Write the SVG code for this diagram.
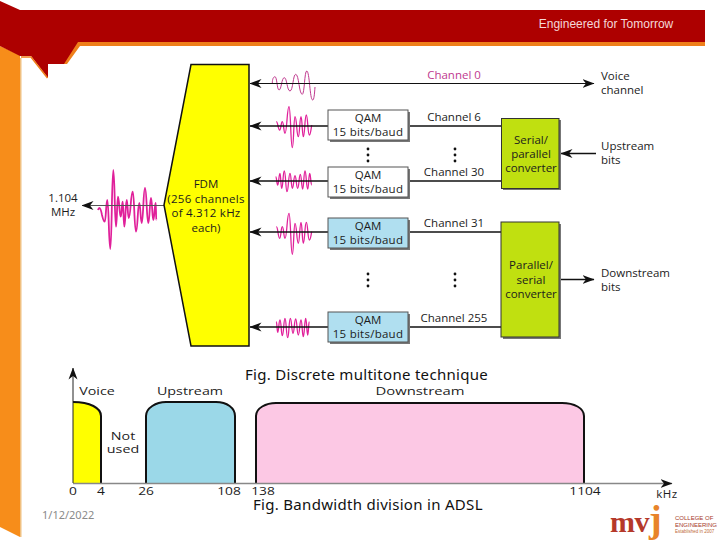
<svg xmlns="http://www.w3.org/2000/svg" width="720" height="540" viewBox="0 0 720 540">
<defs>
<style>
text{font-family:"Open Sans","Noto Sans","Liberation Sans",sans-serif;font-size:11.5px;fill:#1c1c1c}
.m{text-anchor:middle}
.pink{fill:#c0398f}
.q{letter-spacing:.25px}
.ax{font-size:11px}
.cap{font-family:"Noto Sans","Open Sans",sans-serif;font-size:15px;fill:#111;letter-spacing:.3px}
.w{fill:none;stroke:#e0209a;stroke-width:1.3}
.l{stroke:#111;stroke-width:1.6;fill:none}
.qw{fill:#fff;stroke:#555;stroke-width:1}
.qb{fill:#b0dff0;stroke:#555;stroke-width:1}
.sh{fill:#777}
.gb{fill:#c0e010;stroke:#333;stroke-width:1}
.band{stroke:#111;stroke-width:2;fill:none}
</style>
<marker id="ah" viewBox="0 0 12 10" refX="11.5" refY="5" markerWidth="12" markerHeight="10" orient="auto-start-reverse" markerUnits="userSpaceOnUse"><path d="M0 0.500L12 5L0 9.500L3.500 5Z" fill="#111"/></marker>
</defs>
<rect width="720" height="540" fill="#fff"/>
<g id="frame">
<path d="M0 46L20 55V537L0 527Z" fill="#f78d1a"/>
<rect x="20" y="58" width="1.500" height="479" fill="#f0c080"/>
<path d="M20 10H705V46H78L65 64H48V78L31 56H20L0 46V1L20 10Z" fill="#ad0000"/>
<path d="M78 42H705V46H80L67 64H64Z" fill="#ef7f1a"/>
<path d="M21 57H31L47.500 78" fill="none" stroke="#ef7f1a" stroke-width="1.500"/>
<text x="606" y="28" class="m" style="font-family:'Liberation Sans',sans-serif;font-size:12px;fill:#f4d8d8">Engineered for Tomorrow</text>
</g>
<g id="waves">
<path class="w" style="stroke:#c0398f;stroke-width:1" d="M272.300 83.300C272.300 79 273.500 76.700 275 76.700C277 76.700 277 90 279 90C281.500 90 281.500 77.700 284.300 77.700C287 77.700 287 91 290 91C293 91 293 74.300 295.700 74.300C299 74.300 299 94.300 302.300 94.300C304.500 94.300 304.500 71 306.700 71C309.700 71 309.700 100 312.700 100C314 100 314.500 94 315 87"/>
<path class="w" d="M276.300 121.700C278 121.700 278 130 279.700 130C281 130 281 121.700 282.300 121.700C283.700 121.700 283.700 133.300 285 133.300C287 133.300 287 106.700 289 106.700C290.700 106.700 290.700 147.700 292.300 147.700C293.700 147.700 293.700 116.700 295 116.700C296.700 116.700 296.700 136.700 298.300 136.700C299.700 136.700 299.700 116.700 301 116.700C302.200 116.700 302.200 136.700 303.300 136.700C304.800 136.700 304.800 115 306.300 115C307.800 115 307.800 135 309.300 135C310.500 135 311 130 311.700 125"/>
<path class="w" d="M275.700 176.700C276.700 176.700 276.700 185 277.700 185C278.800 185 278.800 173.300 280 173.300C280.800 173.300 280.800 188.300 281.700 188.300C283 188.300 283 171 284.300 171C285.700 171 285.700 191.700 287 191.700C288.500 191.700 288.500 173.300 290 173.300C291.200 173.300 291.200 188.300 292.300 188.300C293.700 188.300 293.700 175.700 295 175.700C296.300 175.700 296.300 188.300 297.700 188.300C299 188.300 299 174.300 300.300 174.300C301.500 174.300 301.500 189 302.700 189C303.800 189 303.800 171 305 171C306.300 171 306.300 189 307.700 189C308.700 189 308.700 173.300 309.700 173.300C310.700 173.300 310.700 185 311.700 185"/>
<path class="w" d="M276.300 226.700C278 226.700 278 238.300 279.700 238.300C281 238.300 281 226.700 282.300 226.700C283.700 226.700 283.700 238.300 285 238.300C287 238.300 287 213.300 289 213.300C290.700 213.300 290.700 254.300 292.300 254.300C293.700 254.300 293.700 223.300 295 223.300C296.700 223.300 296.700 243.300 298.300 243.300C299.700 243.300 299.700 222.300 301 222.300C302.200 222.300 302.200 243.300 303.300 243.300C304.800 243.300 304.800 222.300 306.300 222.300C307.800 222.300 307.800 240 309.300 240C310.500 240 311 235 311.700 231.700"/>
<path class="w" d="M276.300 321.700C277 321.700 277 332.300 277.700 332.300C278.800 332.300 278.800 320 280 320C281.200 320 281.200 335.700 282.300 335.700C283.700 335.700 283.700 318.300 285 318.300C286.300 318.300 286.300 337.700 287.700 337.700C289 337.700 289 318.300 290.300 318.300C291.700 318.300 291.700 333.300 293 333.300C294.300 333.300 294.300 319 295.700 319C297 319 297 335 298.300 335C299.700 335 299.700 320 301 320C302.200 320 302.200 336.700 303.300 336.700C304.500 336.700 304.500 318.300 305.700 318.300C306.700 318.300 306.700 335 307.700 335C308.500 335 308.500 321.700 309.300 321.700"/>
<path class="w" style="stroke-width:1.800" d="M98 210C98.700 208 98.700 208 99.300 208C100.700 208 102 215 102 215C103 219 103.500 221.700 104.700 221.700C106 221.700 106 200 107.300 200C108.800 200 108.800 249 110.300 249C111.800 249 111.800 170 113.300 170C114.700 170 114.700 226.700 116 226.700C117 226.700 117 196.700 118 196.700C119.300 196.700 119.300 216.700 120.700 216.700C121.700 216.700 121.700 201.700 122.700 201.700C123.500 201.700 123.500 226.700 124.300 226.700C125.500 226.700 125.500 200 126.700 200C127.700 200 127.700 218 128.700 218C130.700 218 130.700 191.700 132.700 191.700C134.300 191.700 134.300 231.700 136 231.700C137.700 231.700 137.700 203 139.300 203C140.500 203 140.500 223 141.700 223C143.300 223 143.300 188 145 188C146.700 188 146.700 223 148.300 223C149.700 223 149.700 198 151 198C152.200 198 152.200 220 153.300 220C154.500 220 154.500 203 155.700 203C156 203 156 220 156.300 220"/>
</g>
<g id="connectors">
<path d="M250 83.500H594" stroke="#111" stroke-width="1.200" fill="none" marker-start="url(#ah)" marker-end="url(#ah)"/>
<path class="l" d="M250 126H328" marker-start="url(#ah)"/>
<path class="l" d="M250 181H328" marker-start="url(#ah)"/>
<path class="l" d="M250 232H328" marker-start="url(#ah)"/>
<path class="l" d="M250 327H328" marker-start="url(#ah)"/>
<path class="l" d="M408 126H501"/>
<path class="l" d="M408 181H501"/>
<path class="l" d="M408 232H501"/>
<path class="l" d="M408 327H501"/>
<path class="l" d="M596 153.500H561" marker-end="url(#ah)"/>
<path class="l" d="M560 279.500H594" marker-end="url(#ah)"/>
<path d="M164 205.500H82" stroke="#555" stroke-width="1.200" fill="none" marker-end="url(#ah)"/>
</g>
<g id="fdm">
<path d="M191 64.500H249V346H191L164 205Z" fill="#ff0" stroke="#111" stroke-width="1.500"/>
<text class="m" x="206" y="188">FDM</text>
<text class="m q" x="206" y="203">(256 channels</text>
<text class="m q" x="206" y="217">of 4.312 kHz</text>
<text class="m" x="206" y="232">each)</text>
</g>
<g id="qam6"><rect class="sh" x="330" y="112" width="80" height="30"/><rect class="qw" x="328" y="110" width="80" height="30"/><text class="m" x="368" y="122">QAM</text><text class="m q" x="368" y="136">15 bits/baud</text></g>
<g id="qam30"><rect class="sh" x="330" y="169" width="80" height="30"/><rect class="qw" x="328" y="167" width="80" height="30"/><text class="m" x="368" y="179">QAM</text><text class="m q" x="368" y="193">15 bits/baud</text></g>
<g id="qam31"><rect class="sh" x="330" y="220" width="80" height="30"/><rect class="qb" x="328" y="218" width="80" height="30"/><text class="m" x="368" y="230">QAM</text><text class="m q" x="368" y="244">15 bits/baud</text></g>
<g id="qam255"><rect class="sh" x="330" y="314" width="80" height="30"/><rect class="qb" x="328" y="312" width="80" height="30"/><text class="m" x="368" y="324">QAM</text><text class="m q" x="368" y="338">15 bits/baud</text></g>
<g id="serial"><rect class="sh" x="503" y="120" width="58" height="70"/><rect class="gb" x="501.500" y="118.500" width="57.500" height="70"/><text class="m" x="531" y="144">Serial/</text><text class="m" x="531" y="158">parallel</text><text class="m" x="531" y="172">converter</text></g>
<g id="parallel"><rect class="sh" x="503" y="224" width="58" height="115"/><rect class="gb" x="501" y="222" width="58" height="115"/><text class="m" x="531" y="269">Parallel/</text><text class="m" x="531" y="284">serial</text><text class="m" x="531" y="298">converter</text></g>
<g id="labels">
<text class="m pink" x="454" y="79">Channel 0</text>
<text class="m" x="454" y="121">Channel 6</text>
<text class="m" x="454" y="176">Channel 30</text>
<text class="m" x="454" y="227">Channel 31</text>
<text class="m" x="454" y="322">Channel 255</text>
<text x="601" y="80">Voice</text><text x="601" y="94">channel</text>
<text x="601" y="150">Upstream</text><text x="601" y="164">bits</text>
<text x="601" y="277">Downstream</text><text x="601" y="291">bits</text>
<text class="m" x="63" y="202">1.104</text><text class="m" x="63" y="216">MHz</text>
</g>
<g id="dots" fill="#111">
<circle cx="368" cy="149" r="1.400"/><circle cx="368" cy="155" r="1.400"/><circle cx="368" cy="161" r="1.400"/>
<circle cx="455" cy="149" r="1.400"/><circle cx="455" cy="155" r="1.400"/><circle cx="455" cy="161" r="1.400"/>
<circle cx="368" cy="274" r="1.400"/><circle cx="368" cy="280" r="1.400"/><circle cx="368" cy="286" r="1.400"/>
<circle cx="455" cy="274" r="1.400"/><circle cx="455" cy="280" r="1.400"/><circle cx="455" cy="286" r="1.400"/>
</g>
<text class="cap" x="245" y="380">Fig. Discrete multitone technique</text>
<g id="chart">
<path d="M73 483H101V416C101 408 90 402 73 402Z" fill="#ff0"/>
<path d="M73 402C90 402 101 408 101 416V483" class="band"/>
<path d="M146 483V416C146 408 156 402 166 402H216C227 402 235 408 235 416V483Z" fill="#9bd8e8"/>
<path d="M146 483V416C146 408 156 402 166 402H216C227 402 235 408 235 416V483" class="band"/>
<path d="M256 483V416C256 408 266 403 276 403H562C574 403 584 408 584 416V483Z" fill="#fcc8e4"/>
<path d="M256 483V416C256 408 266 403 276 403H562C574 403 584 408 584 416V483" class="band"/>
<path d="M73 483.500H672" stroke="#888" stroke-width="1.500" fill="none" marker-end="url(#ah)"/>
<path d="M73 483V368" stroke="#222" stroke-width="1" fill="none" marker-end="url(#ah)"/>
<text class="m ax" transform="translate(97 395) scale(1.3 1)">Voice</text>
<text class="m ax" transform="translate(190 395) scale(1.3 1)">Upstream</text>
<text class="m ax" transform="translate(420 395) scale(1.35 1)">Downstream</text>
<text class="m ax" transform="translate(123 440) scale(1.3 1)">Not</text>
<text class="m ax" transform="translate(123 453) scale(1.3 1)">used</text>
<text class="m ax" transform="translate(73 495) scale(1.25 1)">0</text>
<text class="m ax" transform="translate(101 495) scale(1.25 1)">4</text>
<text class="m ax" transform="translate(146 495) scale(1.25 1)">26</text>
<text class="m ax" transform="translate(229 495) scale(1.25 1)">108</text>
<text class="m ax" transform="translate(263 495) scale(1.25 1)">138</text>
<text class="m ax" transform="translate(585 495) scale(1.25 1)">1104</text>
<text class="m" x="667" y="498" style="letter-spacing:.6px">kHz</text>
</g>
<text class="cap" x="253" y="510">Fig. Bandwidth division in ADSL</text>
<text x="42" y="519" style="font-family:'Noto Sans',sans-serif;font-size:11px;fill:#8a8a8a">1/12/2022</text>
<g id="logo">
<text x="610" y="532" style="font-family:'Liberation Serif',serif;font-weight:700;font-size:30px;fill:#b5392a;letter-spacing:-.5px">mv<tspan style="font-size:38px;fill:#e8842a">j</tspan></text>
<text x="675" y="520" style="font-family:'Liberation Sans',sans-serif;font-size:6px;fill:#a5392a">COLLEGE OF</text>
<text x="675" y="527" style="font-family:'Liberation Sans',sans-serif;font-size:6px;fill:#a5392a">ENGINEERING</text>
<text x="675" y="533" style="font-family:'Liberation Sans',sans-serif;font-size:4.500px;fill:#c06a3a">Established in 2007</text>
</g>
</svg>
